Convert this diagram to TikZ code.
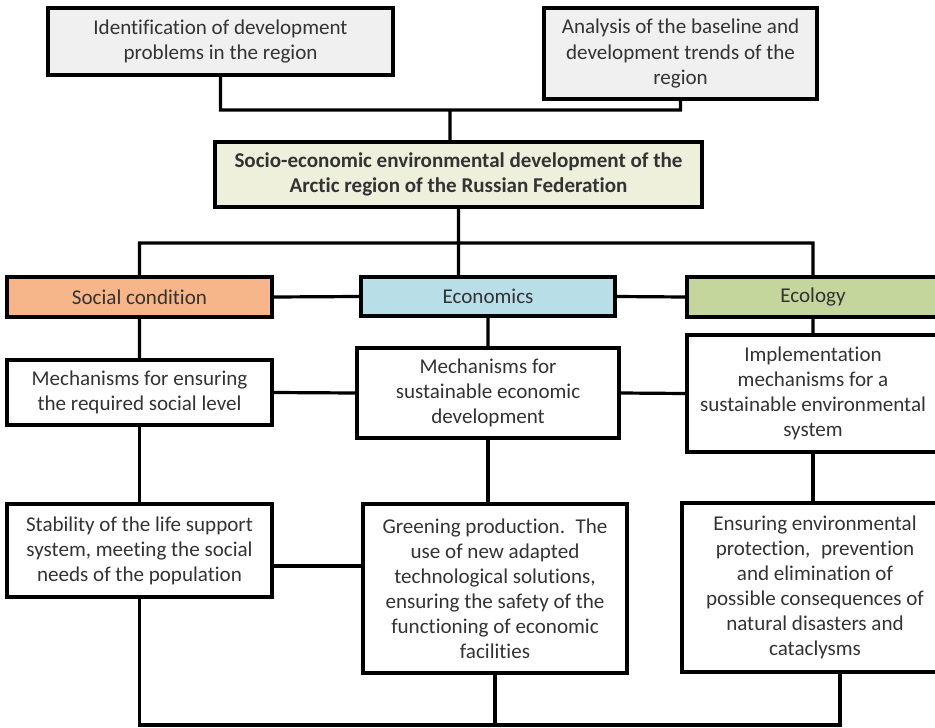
\documentclass[tikz,border=0pt]{standalone}
\usepackage{fontspec}
\setmainfont{Carlito}[Ligatures=NoCommon]
\definecolor{topGray}{HTML}{F0F0F0}
\definecolor{mainCream}{HTML}{EEF0DC}
\definecolor{socOrange}{HTML}{F6B68A}
\definecolor{ecoBlue}{HTML}{B8DEE8}
\definecolor{ecolGreen}{HTML}{C4D69C}
\tikzset{
  box/.style={draw=black, line width=2.4pt, align=center, inner sep=2pt,
    font=\fontsize{15.8}{18.8}\selectfont, text=black!80},
  link/.style={draw=black, line width=2.4pt}
}
\newcommand{\lineTop}{(tI.south) |- (jT) -| (tA.south)}
\newcommand{\lineTM}{(jT) -- (jT |- mD.north)}
\newcommand{\lineMB}{(sC.north) |- (jM) -| (eL.north)}
\newcommand{\lineME}{(mD.south) -- (mD.south |- eC.north)}
\newcommand{\lineSE}{(sC.east) -- (eC.west)}
\newcommand{\lineEL}{(eC.east) -- (eL.west)}
\newcommand{\lineSS}{(sC.south) -- (sM.north)}
\newcommand{\lineEE}{(eC.south) -- (eM.north)}
\newcommand{\lineLL}{(eL.south) -- (lM.north)}
\newcommand{\lineMSE}{(sM.east) -- (eM.west)}
\newcommand{\lineMEL}{(eM.east) -- (lM.west)}
\newcommand{\lineSR}{(sM.south) -- (sR.north)}
\newcommand{\lineER}{(eM.south) -- (eM.south |- eR.north)}
\newcommand{\lineLR}{(lM.south) -- (lM.south |- lR.north)}
\newcommand{\lineRR}{([yshift=-11.6pt]sR.east) -- ([yshift=-11.6pt]sR.east -| eR.west)}
\newcommand{\lineBot}{(sR.south) |- (jB) -| ([xshift=18.75pt]lR.south)}
\newcommand{\lineBE}{(eR.south) -- (jB)}
\begin{document}
\begin{tikzpicture}[x=0.75pt, y=-0.75pt]
        \useasboundingbox (0,0) rectangle (935,728);
        \node[box, fill=topGray, minimum width=258.75pt, minimum height=50.25pt] (tI) at (220.5, 41.5) {Identification of development\\problems in the region};
        \node[box, fill=topGray, minimum width=204.75pt, minimum height=68.25pt] (tA) at (680.5, 53.5) {Analysis of the baseline and\\development trends of the\\region};
        \node[box, fill=mainCream, minimum width=365.25pt, minimum height=48.75pt, font=\fontsize{15.8}{18.8}\selectfont\bfseries] (mD) at (458.5, 174.5) {Socio-economic environmental development of the\\Arctic region of the Russian Federation};
        \coordinate (jT) at (450, 110);
        \coordinate (jM) at (458.5, 243);

        \node[box, fill=socOrange, minimum width=198.75pt, minimum height=30pt] (sC) at (139.5, 297) {Social condition};
        \node[box, fill=ecoBlue, minimum width=190.5pt, minimum height=29.25pt] (eC) at (488, 296.5) {Economics};
        \node[box, fill=ecolGreen, minimum width=189pt, minimum height=30pt] (eL) at (813, 297) {Ecology};

        \node[box, minimum width=198.75pt, minimum height=48.75pt] (sM) at (139.5, 392.5) {Mechanisms for ensuring\\the required social level};
        \node[box, minimum width=196.5pt, minimum height=67.5pt] (eM) at (488, 393) {Mechanisms for\\sustainable economic\\development};
        \node[box, minimum width=189pt, minimum height=87.75pt] (lM) at (813, 393.5) {Implementation\\mechanisms for a\\sustainable environmental\\system};

        \node[box, minimum width=198.75pt, minimum height=69.75pt] (sR) at (139.5, 550.5) {Stability of the life support\\system, meeting the social\\needs of the population};
        \node[box, minimum width=198pt, minimum height=126.75pt] (eR) at (495, 588.5) {Greening production.\enspace The\\use of new adapted\\technological solutions,\\ensuring the safety of the\\functioning of economic\\facilities};
        \node[box, minimum width=199.5pt, minimum height=126.75pt] (lR) at (815, 587.5) {Ensuring environmental\\protection,\enspace prevention\\and elimination of\\possible consequences of\\natural disasters and\\cataclysms};
        \coordinate (jB) at (495, 725);

        \draw[link] \lineTop \lineTM \lineMB \lineME \lineSE \lineEL;
        \draw[link] \lineSS \lineEE \lineLL \lineMSE \lineMEL;
        \draw[link] \lineSR \lineER \lineLR \lineBot \lineBE;
        \draw[link, line width=3pt] \lineRR;
    \end{tikzpicture}
\end{document}
